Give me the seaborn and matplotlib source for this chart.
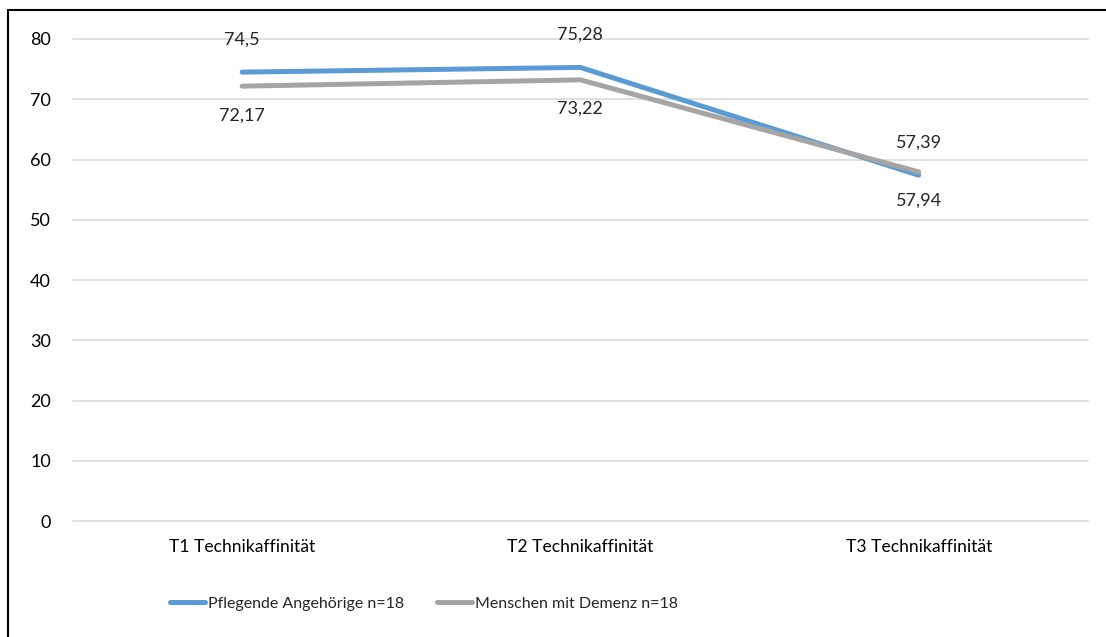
import matplotlib
matplotlib.use("Agg")
import matplotlib.pyplot as plt
from matplotlib.patches import Rectangle
import seaborn as sns
import pandas as pd

# data
zeitpunkte = ["T1 Technikaffinität", "T2 Technikaffinität", "T3 Technikaffinität"]
angehoerige = [74.5, 75.28, 57.39]
demenz = [72.17, 73.22, 57.94]
gruppen = ["Pflegende Angehörige n=18", "Menschen mit Demenz n=18"]
yticks = [0, 10, 20, 30, 40, 50, 60, 70, 80]

sns.set_theme(style="white")
plt.rcParams["font.family"] = ["Lato", "DejaVu Sans"]
fs = 13

df = pd.DataFrame({
    "zeit": zeitpunkte * 2,
    "wert": angehoerige + demenz,
    "gruppe": [gruppen[0]] * 3 + [gruppen[1]] * 3,
})

fig = plt.figure(figsize=(11.06, 6.37), dpi=100)
ax = fig.add_axes([0.066, 0.182, 0.9176, 0.7568])

sns.lineplot(data=df, x="zeit", y="wert", hue="gruppe", hue_order=gruppen,
             palette=["#5B9BD5", "#A5A5A5"], linewidth=3.6, sort=False,
             solid_capstyle="round", solid_joinstyle="round", ax=ax, legend=True)

ax.set_ylim(0, 80)
ax.set_xlim(-0.5, 2.5)
ax.set_yticks(yticks)
ax.grid(axis="y", color="#D9D9D9", linewidth=1.2)
ax.set_axisbelow(True)
for l in ax.get_ygridlines():
    l.set_clip_on(False)
for s in ax.spines.values():
    s.set_visible(False)
ax.set_xlabel("")
ax.set_ylabel("")
ax.tick_params(axis="y", length=0, pad=16, labelsize=fs, labelcolor="black")
ax.tick_params(axis="x", length=0, pad=13, labelsize=12.6, labelcolor="black")

# data labels: blue above, gray below
for i, v in enumerate(angehoerige):
    ax.annotate(f"{v:g}".replace(".", ","), (i, v), xytext=(0, 33),
                textcoords="offset pixels", ha="center", va="center", fontsize=fs)
for i, v in enumerate(demenz):
    ax.annotate(f"{v:g}".replace(".", ","), (i, v), xytext=(0, -29),
                textcoords="offset pixels", ha="center", va="center", fontsize=fs)

leg = ax.legend(loc="center", bbox_to_anchor=(424 / 1106, 0.052), bbox_transform=fig.transFigure,
                ncol=2, frameon=False, fontsize=11.5, handlelength=2.2, handletextpad=0.15,
                columnspacing=2.1, borderpad=0)
for h in leg.get_lines():
    h.set_linewidth(3.6)
    h.set_solid_capstyle("round")

# outer chart frame (only top and left visible in the reference)
fig.patches.append(Rectangle((8 / 1106, -0.1), 1.2, 1 - 10 / 637 + 0.1,
                             transform=fig.transFigure, fill=False,
                             edgecolor="black", linewidth=1.5))

fig.savefig("out.png", dpi=100)
